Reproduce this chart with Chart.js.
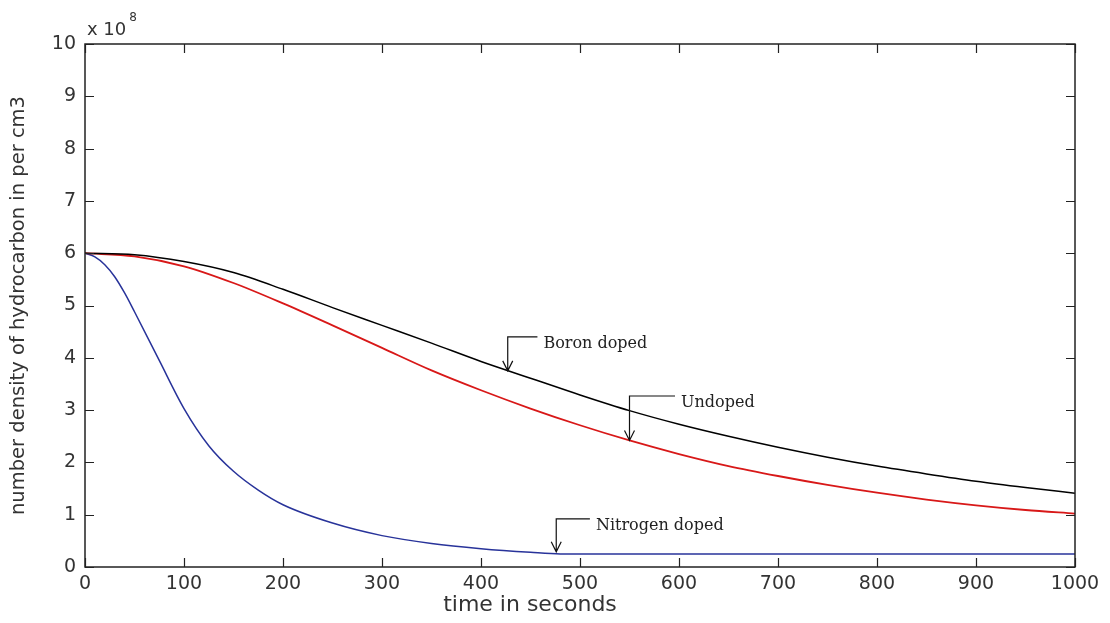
<!DOCTYPE html>
<html>
<head>
<meta charset="utf-8">
<script src="https://cdn.jsdelivr.net/npm/chart.js@4"></script>
<style>
  html, body { margin: 0; padding: 0; background: #fff; }
  #wrap { width: 1110px; height: 623px; }
</style>
</head>
<body>
<div id="wrap"><canvas id="grafico"></canvas></div>
<script>
// values in units of 10^8 per cm3
const tempo = [0, 50, 100, 150, 200, 250, 300, 350, 400, 450, 500, 550, 600, 650, 700, 750, 800, 850, 900, 950, 1000];
const boro = [6.0, 5.97, 5.84, 5.63, 5.31, 4.96, 4.62, 4.28, 3.93, 3.61, 3.29, 2.99, 2.73, 2.5, 2.29, 2.1, 1.93, 1.78, 1.64, 1.52, 1.41];
const semDopagem = [6.0, 5.94, 5.75, 5.43, 5.04, 4.62, 4.19, 3.76, 3.38, 3.03, 2.71, 2.42, 2.16, 1.93, 1.74, 1.57, 1.42, 1.29, 1.18, 1.09, 1.02];
const tempoN = [0, 10, 20, 30, 40, 50, 75, 100, 125, 150, 175, 200, 250, 300, 350, 400, 450, 480, 600, 700, 800, 900, 1000];
const nitrogenio = [6.0, 5.93, 5.78, 5.55, 5.24, 4.88, 3.95, 3.03, 2.32, 1.83, 1.47, 1.19, 0.84, 0.6, 0.45, 0.35, 0.28, 0.25, 0.25, 0.25, 0.25, 0.25, 0.25];

const xTicks = [0, 100, 200, 300, 400, 500, 600, 700, 800, 900, 1000];
const yTicks = [0, 1, 2, 3, 4, 5, 6, 7, 8, 9, 10];

// callouts: arrow tip on the curve, top of the leader, end of the horizontal stub
const anotacoes = [
  { texto: 'Boron doped', x: 427, y: 3.75, topo: 4.4, fim: 457 },
  { texto: 'Undoped', x: 550, y: 2.42, topo: 3.27, fim: 596 },
  { texto: 'Nitrogen doped', x: 476, y: 0.29, topo: 0.92, fim: 510 }
];

const pares = (xs, ys) => xs.map((x, i) => ({ x: x, y: ys[i] }));

const caixaMatlab = {
  id: 'caixaMatlab',
  afterDatasetsDraw(chart) {
    const { ctx, chartArea: a, scales } = chart;
    const sx = scales.x, sy = scales.y;
    ctx.save();
    ctx.strokeStyle = '#222';
    ctx.lineWidth = 1.5;
    ctx.strokeRect(a.left, a.top, a.right - a.left, a.bottom - a.top);

    // inward ticks on all four sides
    ctx.lineWidth = 1.2;
    ctx.beginPath();
    xTicks.forEach(v => {
      const px = Math.round(sx.getPixelForValue(v)) + 0.5;
      ctx.moveTo(px, a.bottom); ctx.lineTo(px, a.bottom - 9);
      ctx.moveTo(px, a.top); ctx.lineTo(px, a.top + 9);
    });
    yTicks.forEach(v => {
      const py = Math.round(sy.getPixelForValue(v)) + 0.5;
      ctx.moveTo(a.left, py); ctx.lineTo(a.left + 9, py);
      ctx.moveTo(a.right, py); ctx.lineTo(a.right - 9, py);
    });
    ctx.stroke();

    // x 10^8 multiplier
    ctx.fillStyle = '#333';
    ctx.textBaseline = 'alphabetic';
    ctx.font = '18px "DejaVu Sans", sans-serif';
    ctx.fillText('x 10', a.left + 2, 35);
    const w = ctx.measureText('x 10').width;
    ctx.font = '12px "DejaVu Sans", sans-serif';
    ctx.fillText('8', a.left + 5 + w, 21);

    // x axis title, sits left of the plot centre in the original
    ctx.font = '22px "DejaVu Sans", sans-serif';
    ctx.textAlign = 'center';
    ctx.textBaseline = 'middle';
    ctx.fillText('time in seconds', 530, 605);
    ctx.textAlign = 'left';

    // callouts
    ctx.strokeStyle = '#111';
    ctx.fillStyle = '#222';
    ctx.lineWidth = 1.2;
    ctx.font = '16px "DejaVu Serif", serif';
    anotacoes.forEach(n => {
      const px = sx.getPixelForValue(n.x);
      const py = sy.getPixelForValue(n.y);
      const pt = sy.getPixelForValue(n.topo);
      const pf = sx.getPixelForValue(n.fim);
      ctx.beginPath();
      ctx.moveTo(px, py);
      ctx.lineTo(px, pt);
      ctx.lineTo(pf, pt);
      ctx.moveTo(px - 5, py - 10); ctx.lineTo(px, py); ctx.lineTo(px + 5, py - 10);
      ctx.stroke();
      ctx.fillText(n.texto, pf + 6, pt + 7);
    });
    ctx.restore();
  }
};

const fonteTick = { family: '"DejaVu Sans", sans-serif', size: 19 };

new Chart(document.getElementById('grafico'), {
  type: 'line',
  data: {
    datasets: [
      { label: 'Boron doped', data: pares(tempo, boro), borderColor: '#000', borderWidth: 1.5 },
      { label: 'Undoped', data: pares(tempo, semDopagem), borderColor: '#d81818', borderWidth: 1.8 },
      { label: 'Nitrogen doped', data: pares(tempoN, nitrogenio), borderColor: '#28339a', borderWidth: 1.5 }
    ]
  },
  options: {
    responsive: true,
    maintainAspectRatio: false,
    animation: false,
    elements: {
      point: { radius: 0, hoverRadius: 0 },
      line: { cubicInterpolationMode: 'monotone', fill: false }
    },
    layout: { padding: { left: 0, top: 44, right: 35, bottom: 0 } },
    plugins: { legend: { display: false }, tooltip: { enabled: false } },
    scales: {
      x: {
        type: 'linear',
        min: 0, max: 1000,
        afterBuildTicks: s => { s.ticks = xTicks.map(v => ({ value: v })); },
        afterFit: s => { s.height = 56; },
        grid: { display: false, drawTicks: false },
        border: { display: false },
        ticks: { color: '#333', font: fonteTick, padding: 6, maxRotation: 0, callback: v => String(v) }
      },
      y: {
        type: 'linear',
        min: 0, max: 10,
        afterBuildTicks: s => { s.ticks = yTicks.map(v => ({ value: v })); },
        afterFit: s => { s.width = 85; },
        grid: { display: false, drawTicks: false },
        border: { display: false },
        ticks: { color: '#333', font: fonteTick, padding: 9, callback: v => String(v) },
        title: { display: true, text: 'number density of hydrocarbon in per cm3', color: '#333', font: { family: '"DejaVu Sans", sans-serif', size: 19.5 }, padding: { top: 7, bottom: 0 } }
      }
    }
  },
  plugins: [caixaMatlab]
});
</script>
</body>
</html>
